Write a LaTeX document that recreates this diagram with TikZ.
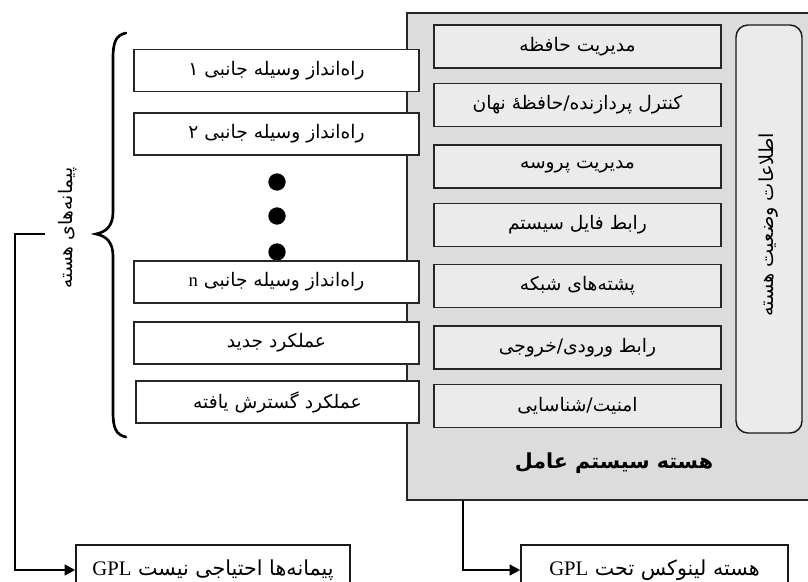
\documentclass[tikz,border=0pt]{standalone}
\usepackage{fontspec}
\usetikzlibrary{arrows.meta}
\newfontfamily\fa[Script=Arabic]{DejaVu Sans}
\newfontfamily\lat{Liberation Serif}
\TeXXeTstate=1
\newcommand\RL[1]{{\fa\beginR #1\endR}}
\newcommand\LT[1]{\beginL{\lat #1}\endL}
\definecolor{kgray}{HTML}{DCDCDC}
\definecolor{igray}{HTML}{EBEBEB}
\begin{document}
\begin{tikzpicture}[x=0.75pt,y=-0.75pt,
  txt/.style={font=\fontsize{14}{16}\selectfont},
  lbox/.style={draw=black!85, line width=1.1pt, fill=white, minimum width=213.75pt, minimum height=31.75pt, inner sep=0pt, txt},
  rbox/.style={draw=black!85, line width=1.1pt, fill=igray, minimum width=215.25pt, minimum height=32.5pt, inner sep=0pt, txt},
  kbox/.style={draw=black!85, line width=1.1pt, fill=kgray, minimum width=303.75pt, minimum height=365.25pt, inner sep=0pt},
  sbox/.style={draw=black!90, line width=1.1pt, fill=igray, rounded corners=9pt, minimum width=49.5pt, minimum height=306pt, inner sep=0pt},
  bbox/.style={draw=black!90, line width=1.1pt, fill=white, minimum height=37.5pt, inner sep=0pt, font=\fontsize{15.5}{18}\selectfont},
  dot/.style={circle, fill=black, minimum size=13pt, inner sep=0pt},
  brace/.style={line width=2pt, line cap=round},
  arr/.style={line width=1.7pt, -{Triangle[length=8pt,width=8pt]}}
]
\clip (0,0) rectangle (808,582);
\fill[white] (0,0) rectangle (808,582);
% kernel
\node[kbox] (kernel) at (609.5,256.5) {};
\node[font=\fontsize{15.5}{18}\selectfont\bfseries] (title) at (614,463) {\RL{هسته سیستم عامل}};
% right boxes
\node[rbox] (r1) at (577.5,46.5) {\RL{مدیریت حافظه}};
\node[rbox] (r2) at (577.5,105) {\RL{کنترل پردازنده/حافظهٔ نهان}};
\node[rbox] (r3) at (577.5,166.5) {\RL{مدیریت پروسه}};
\node[rbox] (r4) at (577.5,225) {\RL{رابط فایل سیستم}};
\node[rbox] (r5) at (577.5,286) {\RL{پشته‌های شبکه}};
\node[rbox] (r6) at (577.5,347.5) {\RL{رابط ورودی/خروجی}};
\node[rbox] (r7) at (577.5,406) {\RL{امنیت/شناسایی}};
\node[sbox] (state) at (769,229) {};
\node[font=\fontsize{14.5}{16}\selectfont, rotate=90] (statet) at (769,225) {\RL{اطلاعات وضعیت هسته}};
% dots
\node[dot] (d1) at (277,182) {};
\node[dot] (d2) at (277,216) {};
\node[dot] (d3) at (277,252) {};
% left boxes
\node[lbox] (l1) at (276.5,70.5) {\RL{راه‌انداز وسیله جانبی ۱}};
\node[lbox] (l2) at (276.5,134) {\RL{راه‌انداز وسیله جانبی ۲}};
\node[lbox] (ln) at (276.5,282) {\RL{راه‌انداز وسیله جانبی \LT{n}}};
\node[lbox] (l6) at (276.5,343) {\RL{عملکرد جدید}};
\node[lbox, minimum width=212.25pt] (l7) at (277.5,402) {\RL{عملکرد گسترش یافته}};
% brace
\draw[brace] (126,33) .. controls (116,35) and (113,42) .. (113,58) -- (113,212)
  .. controls (113,226) and (106,232) .. (96,234)
  .. controls (106,236) and (113,242) .. (113,256) -- (113,412)
  .. controls (113,428) and (116,435) .. (126,437);
\node[txt, rotate=90] (mods) at (68,228) {\RL{پیمانه‌های هسته}};
% bottom boxes
\node[bbox, minimum width=205.5pt] (g1) at (213,570) {\RL{پیمانه‌ها احتیاجی نیست \LT{GPL}}};
\node[bbox, minimum width=200.25pt] (g2) at (654.5,570) {\RL{هسته لینوکس تحت \LT{GPL}}};
% connectors
\coordinate (c1) at (45,234);
\coordinate (c2) at (15,234);
\coordinate (k1) at (463,500);
\draw[arr] (c1) -- (c2) |- (g1.west);
\draw[arr] (k1) |- (g2.west);
\end{tikzpicture}
\end{document}
